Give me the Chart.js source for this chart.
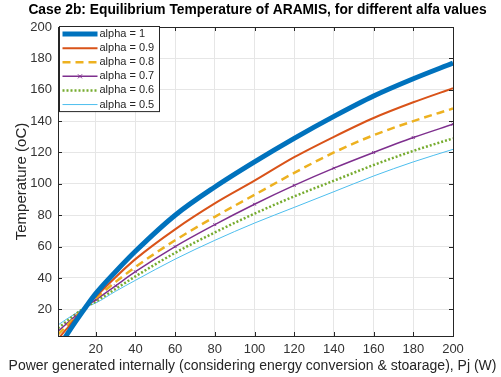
<!DOCTYPE html>
<html>
<head>
<meta charset="utf-8">
<script src="https://cdn.jsdelivr.net/npm/chart.js@4"></script>
<style>
  html, body { margin: 0; padding: 0; background: #fff; }
  #wrap { width: 501px; height: 377px; }
</style>
</head>
<body>
<div id="wrap"><canvas id="tempChart" width="501" height="377"></canvas></div>
<script>
// Datos
const power   = [1, 5, 10, 15, 20, 30, 40, 60, 80, 100, 120, 140, 160, 180, 200];
const alpha10 = [-5, 3, 12.5, 21.5, 30, 44, 57, 80, 98, 114, 129, 143, 156, 167, 177];
const alpha09 = [1, 7, 14.5, 21.5, 28, 40.5, 52, 71, 87.5, 102, 117, 130, 142, 152, 161];
const alpha08 = [4, 9, 15.5, 21.5, 27, 37.5, 47, 64, 79, 93, 107, 120, 131, 140, 148];
const alpha07 = [6, 10.5, 16, 21.5, 26, 35, 44, 60, 74, 87, 99, 110, 120, 129.5, 138];
const alpha06 = [8, 12, 17, 21.5, 25, 33, 41, 56, 69, 81, 92, 102, 112, 121, 129];
const alpha05 = [10, 13.5, 17.5, 21.5, 24, 31.5, 38.5, 52, 64, 75, 85, 95, 105, 114, 122];

const seriesLabels = ['alpha = 1', 'alpha = 0.9', 'alpha = 0.8', 'alpha = 0.7', 'alpha = 0.6', 'alpha = 0.5'];
const xTicks = [20, 40, 60, 80, 100, 120, 140, 160, 180, 200];
const yTicks = [20, 40, 60, 80, 100, 120, 140, 160, 180, 200];

const chartTitle = 'Case 2b: Equilibrium Temperature of ARAMIS, for different alfa values';
const xTitle = 'Power generated internally (considering energy conversion & stoarage), Pj (W)';

const FONT = "'Liberation Sans', Arial, sans-serif";

function pts(ys) {
    return power.map((x, i) => ({ x: x, y: ys[i] }));
}

// titulos, caja, ticks hacia dentro y leyenda estilo MATLAB
const matlabBox = {
    id: 'matlabBox',
    afterDraw(chart) {
        const { ctx, chartArea: a, scales } = chart;
        const cx = (a.left + a.right) / 2;
        ctx.save();

        // titulos (sin maxWidth para que no se compriman)
        ctx.textAlign = 'center';
        ctx.textBaseline = 'middle';
        ctx.fillStyle = '#000';
        ctx.font = 'bold 13.8px ' + FONT;
        ctx.fillText(chartTitle, cx + 2, 10.5);
        ctx.fillStyle = '#262626';
        ctx.font = '14px ' + FONT;
        ctx.fillText(xTitle, cx - 3, 366);

        ctx.strokeStyle = '#262626';
        ctx.lineWidth = 1;
        ctx.strokeRect(Math.round(a.left) + 0.5, Math.round(a.top) + 0.5,
                       Math.round(a.right - a.left), Math.round(a.bottom - a.top));
        ctx.beginPath();
        xTicks.forEach(v => {
            const px = Math.round(scales.x.getPixelForValue(v)) + 0.5;
            ctx.moveTo(px, a.bottom); ctx.lineTo(px, a.bottom - 4);
            ctx.moveTo(px, a.top); ctx.lineTo(px, a.top + 4);
        });
        yTicks.forEach(v => {
            const py = Math.round(scales.y.getPixelForValue(v)) + 0.5;
            ctx.moveTo(a.left, py); ctx.lineTo(a.left + 4, py);
            ctx.moveTo(a.right, py); ctx.lineTo(a.right - 4, py);
        });
        ctx.stroke();

        // leyenda
        const lx = Math.round(a.left) + 1.5, ly = Math.round(a.top) - 0.5;
        const rowH = 14.1, w = 100, h = rowH * 6 + 0.5;
        ctx.fillStyle = '#fff';
        ctx.fillRect(lx, ly, w, h);
        ctx.strokeStyle = '#262626';
        ctx.strokeRect(lx, ly, w, h);
        ctx.font = '11px ' + FONT;
        ctx.textAlign = 'left';
        ctx.textBaseline = 'middle';
        chart.data.datasets.forEach((ds, i) => {
            const y = ly + rowH * i + rowH / 2 + 0.5;
            ctx.save();
            ctx.strokeStyle = ds.borderColor;
            ctx.lineWidth = ds.borderWidth;
            ctx.setLineDash(ds.borderDash || []);
            ctx.beginPath();
            ctx.moveTo(lx + 3, y);
            ctx.lineTo(lx + 38, y);
            ctx.stroke();
            if (ds.pointRadius) {
                ctx.setLineDash([]);
                ctx.lineWidth = 1;
                const mx = lx + 20.5;
                ctx.beginPath();
                ctx.moveTo(mx - 2, y - 2); ctx.lineTo(mx + 2, y + 2);
                ctx.moveTo(mx - 2, y + 2); ctx.lineTo(mx + 2, y - 2);
                ctx.stroke();
            }
            ctx.restore();
            ctx.fillStyle = '#262626';
            ctx.fillText(seriesLabels[i], lx + 40, y);
        });
        ctx.restore();
    }
};

const ctx = document.getElementById('tempChart').getContext('2d');

new Chart(ctx, {
    type: 'line',
    data: {
        datasets: [
            { data: pts(alpha10), borderColor: '#0072BD', borderWidth: 5, pointRadius: 0 },
            { data: pts(alpha09), borderColor: '#D95319', borderWidth: 2, pointRadius: 0 },
            { data: pts(alpha08), borderColor: '#EDB120', borderWidth: 2.5, borderDash: [8, 5], pointRadius: 0 },
            { data: pts(alpha07), borderColor: '#7E2F8E', borderWidth: 1.5, pointRadius: 2,
              pointStyle: 'crossRot', pointBorderColor: '#7E2F8E', pointBorderWidth: 1 },
            { data: pts(alpha06), borderColor: '#77AC30', borderWidth: 2.5, borderDash: [2, 2], pointRadius: 0 },
            { data: pts(alpha05), borderColor: '#4DBEEE', borderWidth: 1, pointRadius: 0 }
        ].map((d, i) => Object.assign(d, { label: seriesLabels[i], fill: false, cubicInterpolationMode: 'monotone' }))
    },
    options: {
        responsive: false,
        animation: false,
        layout: { padding: { right: 48, left: 0, bottom: 0, top: 27 } },
        plugins: {
            legend: { display: false },
            tooltip: { enabled: false },
            title: { display: false }
        },
        scales: {
            x: {
                type: 'linear',
                min: 1,
                max: 200,
                afterBuildTicks: s => { s.ticks = xTicks.map(v => ({ value: v })); },
                afterFit: s => { s.height = 41; },
                grid: { color: '#e6e6e6', drawTicks: false },
                border: { display: false },
                ticks: { color: '#333', padding: 6, font: { family: FONT, size: 13 } }
            },
            y: {
                min: 3,
                max: 200,
                afterBuildTicks: s => { s.ticks = yTicks.map(v => ({ value: v })); },
                afterFit: s => { s.width = 58; },
                grid: { color: '#e6e6e6', drawTicks: false },
                border: { display: false },
                ticks: { color: '#333', padding: 6, font: { family: FONT, size: 13 } },
                title: {
                    display: true,
                    text: 'Temperature (oC)',
                    color: '#262626',
                    font: { family: FONT, size: 15 },
                    padding: { top: 13, bottom: 0 }
                }
            }
        }
    },
    plugins: [matlabBox]
});
</script>
</body>
</html>
